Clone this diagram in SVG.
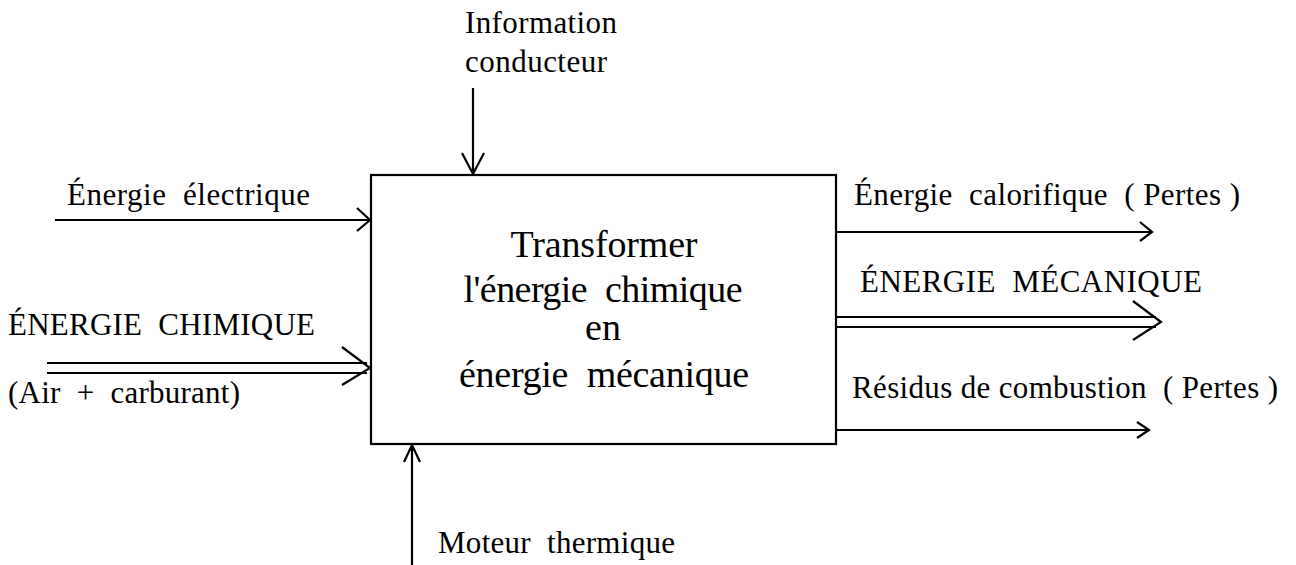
<svg xmlns="http://www.w3.org/2000/svg" width="1296" height="565" viewBox="0 0 1296 565">
<style>
text{font-family:"Liberation Serif","Times New Roman",serif;fill:#000}
.lbl{font-size:31px}
.ctr{font-size:38px;text-anchor:middle}
.ln{stroke:#000;stroke-width:2.2;fill:none}
</style>
<rect width="1296" height="565" fill="#fff"/>
<g id="process">
<rect x="371" y="175" width="465" height="269" class="ln"/>
<text class="ctr" x="604" y="257" textLength="187">Transformer</text>
<text class="ctr" x="603" y="302" textLength="279" xml:space="preserve">l'énergie  chimique</text>
<text class="ctr" x="603" y="340">en</text>
<text class="ctr" x="604" y="387" textLength="290" xml:space="preserve">énergie  mécanique</text>
</g>
<g id="labels">
<text class="lbl" x="465" y="33" textLength="152">Information</text>
<text class="lbl" x="465" y="72" textLength="142">conducteur</text>
<text class="lbl" x="67" y="205" textLength="243" xml:space="preserve">Énergie  électrique</text>
<text class="lbl" x="8" y="335" textLength="307" xml:space="preserve">ÉNERGIE  CHIMIQUE</text>
<text class="lbl" x="8" y="403" textLength="232" xml:space="preserve">(Air  +  carburant)</text>
<text class="lbl" x="854" y="205" textLength="386" xml:space="preserve">Énergie  calorifique  ( Pertes )</text>
<text class="lbl" x="860" y="292" textLength="342" xml:space="preserve">ÉNERGIE  MÉCANIQUE</text>
<text class="lbl" x="852" y="398" textLength="426" xml:space="preserve">Résidus de combustion  ( Pertes )</text>
<text class="lbl" x="438" y="553" textLength="237" xml:space="preserve">Moteur  thermique</text>
</g>
<g id="connectors" class="ln">
<path d="M473 88V174M462 153L473 174L484 153"/>
<path d="M412 565V445M404 462L412 445L420 462"/>
<path d="M55 220H369M357 208L370 220L357 231"/>
<path d="M47 363H367M47 373H367M342 347L370 368L342 385"/>
<path d="M836 232H1151M1140 222L1152 232L1140 241"/>
<path d="M836 317H1156M836 327H1156M1133 301L1161 322L1133 340"/>
<path d="M836 430H1147M1137 422L1149 430L1137 438"/>
</g>
</svg>
